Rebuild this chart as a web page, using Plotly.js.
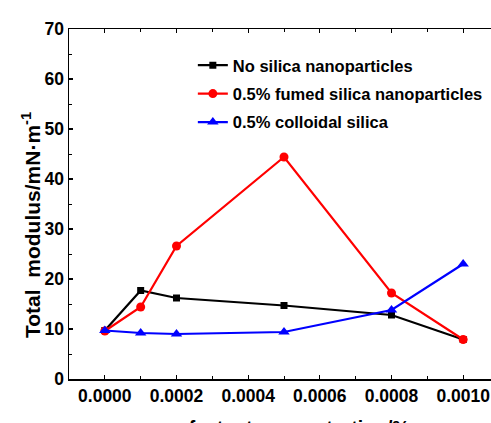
<!DOCTYPE html>
<html>
<head>
<meta charset="utf-8">
<script src="https://cdn.plot.ly/plotly-3.0.1.min.js"></script>
<style>
html, body { margin: 0; padding: 0; overflow: hidden; background: #fff; }
#chart { width: 500px; height: 450px; }
</style>
</head>
<body>
<div id="chart"></div>
<script>
const concentration = [0, 0.0001, 0.0002, 0.0005, 0.0008, 0.0010];
const noSilica = [9.7, 17.7, 16.2, 14.7, 12.8, 7.9];
const fumedSilica = [9.6, 14.4, 26.6, 44.4, 17.2, 7.9];
const colloidalSilica = [9.7, 9.2, 9.0, 9.4, 13.8, 23.0];
const seriesNames = ["No silica nanoparticles", "0.5% fumed silica nanoparticles", "0.5% colloidal silica"];
const xTickVals = [0, 0.0002, 0.0004, 0.0006, 0.0008, 0.0010];
const xTickText = ["0.0000", "0.0002", "0.0004", "0.0006", "0.0008", "0.0010"];
const yTitle = "Total  modulus/mN·m<sup>-1</sup>";
const xTitle = "surfactant concentration/%";

const font = "'Liberation Sans', Arial, sans-serif";

const traces = [
  {x: concentration, y: noSilica, name: seriesNames[0], legendgroup: "a",
   mode: "lines+markers", line: {color: "#000000", width: 2.2},
   marker: {symbol: "square", size: 7, color: "#000000"}},
  {x: concentration, y: fumedSilica, name: seriesNames[1], legendgroup: "b",
   mode: "lines+markers", line: {color: "#ff0000", width: 2.2},
   marker: {symbol: "circle", size: 9, color: "#ff0000"}},
  {x: concentration, y: colloidalSilica, name: seriesNames[2], legendgroup: "c",
   mode: "lines+markers", line: {color: "#0000ff", width: 2.2},
   marker: {symbol: "triangle-up", size: 10, color: "#0000ff"}}
];

const layout = {
  width: 500, height: 450,
  margin: {l: 69, r: 1, t: 29, b: 71},
  paper_bgcolor: "#ffffff", plot_bgcolor: "#ffffff",
  font: {family: font, color: "#000000", size: 17, weight: "bold"},
  showlegend: true,
  legend: {x: 0.288, y: 0.946, xanchor: "left", yanchor: "top",
           bgcolor: "rgba(0,0,0,0)", font: {size: 16.5, family: font, weight: "bold"},
           tracegroupgap: 4, traceorder: "grouped"},
  xaxis: {
    range: [-0.0001, 0.0011], showgrid: false, zeroline: false,
    showline: true, linecolor: "#000", linewidth: 1.5, mirror: "ticks",
    ticks: "inside", ticklen: 4, tickwidth: 1.2, tickcolor: "#000",
    tickvals: xTickVals, ticktext: xTickText,
    tickfont: {size: 17.5, family: font, weight: "bold"},
    minor: {dtick: 0.0001, ticks: "inside", ticklen: 3, tickcolor: "#000", tickwidth: 1},
    title: {text: xTitle, font: {size: 19.5, family: font, weight: "bold"}, standoff: 17}
  },
  yaxis: {
    range: [0, 70], showgrid: false, zeroline: false,
    showline: true, linecolor: "#000", linewidth: 1.5,
    ticks: "inside", ticklen: 4, tickwidth: 1.2, tickcolor: "#000",
    dtick: 10, tickfont: {size: 17.5, family: font, weight: "bold"},
    minor: {dtick: 5, ticks: "inside", ticklen: 3, tickcolor: "#000", tickwidth: 1}
  },
  annotations: [{
    text: yTitle, textangle: -90, showarrow: false,
    xref: "paper", yref: "paper", x: -38 / 430, y: (379 - 225) / 350,
    xanchor: "center", yanchor: "middle",
    font: {size: 21, family: font, weight: "bold", color: "#000"}
  }]
};

Plotly.newPlot("chart", traces, layout, {staticPlot: true, displayModeBar: false});
</script>
</body>
</html>
